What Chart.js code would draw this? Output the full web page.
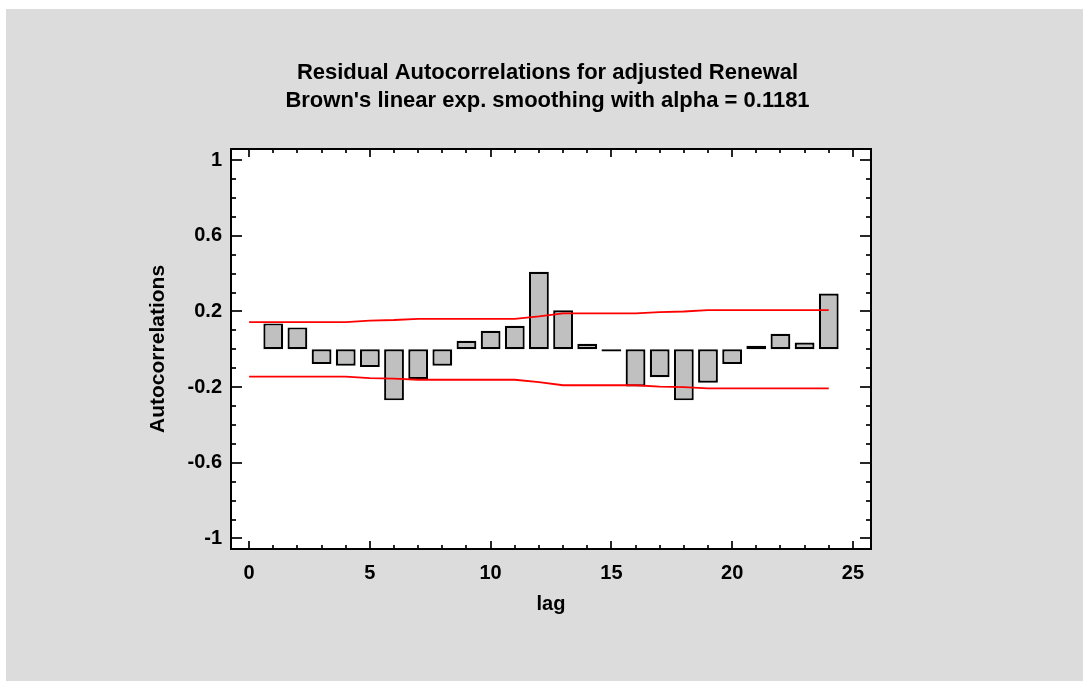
<!DOCTYPE html>
<html>
<head>
<meta charset="utf-8">
<title>Residual Autocorrelations for adjusted Renewal</title>
<script src="https://cdn.jsdelivr.net/npm/chart.js@4.4.1/dist/chart.umd.min.js"></script>
<style>
  html, body { margin: 0; padding: 0; background: #ffffff; }
  #wrap { position: absolute; left: 0; top: 0; width: 1083px; height: 681px; }
</style>
</head>
<body>
<div id="wrap"><canvas id="acf" width="1083" height="681"></canvas></div>
<script>
// Residual autocorrelations by lag
const lags = [1, 2, 3, 4, 5, 6, 7, 8, 9, 10, 11, 12, 13, 14, 15, 16, 17, 18, 19, 20, 21, 22, 23, 24];
const acf = [0.137, 0.116, -0.078, -0.087, -0.094, -0.270, -0.158, -0.087, 0.045, 0.098, 0.124, 0.410,
             0.207, 0.029, -0.012, -0.196, -0.148, -0.270, -0.177, -0.078, 0.019, 0.082, 0.036, 0.295];

// 95% probability limits around zero
const limitLags = [0, 1, 2, 3, 4, 5, 6, 7, 8, 9, 10, 11, 12, 13, 14, 15, 16, 17, 18, 19, 20, 21, 22, 23, 24];
const upperLimit = [0.144, 0.144, 0.144, 0.144, 0.144, 0.152, 0.155, 0.161, 0.161, 0.161, 0.161, 0.161, 0.174,
                    0.190, 0.190, 0.190, 0.190, 0.197, 0.200, 0.207, 0.207, 0.207, 0.207, 0.207, 0.207];
const lowerLimit = [-0.144, -0.144, -0.144, -0.144, -0.144, -0.152, -0.155, -0.161, -0.161, -0.161, -0.161, -0.161, -0.174,
                    -0.190, -0.190, -0.190, -0.190, -0.197, -0.200, -0.207, -0.207, -0.207, -0.207, -0.207, -0.207];

// Axis tick labels
const xTicks = [0, 5, 10, 15, 20, 25];
const yTicks = [-1, -0.6, -0.2, 0.2, 0.6, 1];

const FONT = '"Liberation Sans", Arial, Helvetica, sans-serif';

// Page and plot backgrounds
const backdrop = {
  id: 'backdrop',
  beforeDraw(chart) {
    const { ctx, chartArea: a, width, height } = chart;
    ctx.save();
    ctx.fillStyle = '#ffffff';
    ctx.fillRect(0, 0, width, height);
    ctx.fillStyle = '#dcdcdc';
    ctx.fillRect(6, 9, width - 6, height - 9);
    ctx.fillStyle = '#ffffff';
    ctx.fillRect(a.left, a.top, a.right - a.left, a.bottom - a.top);
    ctx.restore();
  }
};

// Inward tick marks on all four sides of the frame
const frameTicks = {
  id: 'frameTicks',
  afterDraw(chart) {
    const { ctx, chartArea: a, scales: { x, y } } = chart;
    ctx.save();
    ctx.strokeStyle = '#000000';
    ctx.lineWidth = 1.7;
    const seg = (x1, y1, x2, y2) => { ctx.beginPath(); ctx.moveTo(x1, y1); ctx.lineTo(x2, y2); ctx.stroke(); };
    for (let v = 0; v <= 25; v++) {
      const px = Math.round(x.getPixelForValue(v));
      const len = xTicks.includes(v) ? 8 : 4;
      seg(px, a.bottom, px, a.bottom - len);
      seg(px, a.top, px, a.top + len);
    }
    for (let k = -10; k <= 10; k++) {
      const v = k / 10;
      const py = Math.round(y.getPixelForValue(v));
      const len = yTicks.some(t => Math.abs(t - v) < 1e-9) ? 11 : 5;
      seg(a.left, py, a.left + len, py);
      seg(a.right, py, a.right - len, py);
    }
    ctx.restore();
  }
};

const fixSize = (prop, size) => (scale) => { scale[prop] = size; };

new Chart(document.getElementById('acf'), {
  type: 'bar',
  data: {
    datasets: [
      {
        type: 'line',
        data: limitLags.map((l, i) => ({ x: l, y: upperLimit[i] })),
        borderColor: '#ff0000',
        borderWidth: 1.8,
        pointRadius: 0,
        tension: 0,
        fill: false,
        order: 0
      },
      {
        type: 'line',
        data: limitLags.map((l, i) => ({ x: l, y: lowerLimit[i] })),
        borderColor: '#ff0000',
        borderWidth: 1.8,
        pointRadius: 0,
        tension: 0,
        fill: false,
        order: 0
      },
      {
        type: 'bar',
        data: lags.map((l, i) => ({ x: l, y: acf[i] })),
        backgroundColor: '#c0c0c0',
        borderColor: '#000000',
        borderWidth: 2.2,
        borderSkipped: false,
        categoryPercentage: 1,
        barPercentage: 0.82,
        order: 1
      }
    ]
  },
  options: {
    responsive: false,
    animation: false,
    events: [],
    layout: { padding: { left: 12, right: 0, top: 0, bottom: 0 } },
    plugins: {
      legend: { display: false },
      tooltip: { enabled: false },
      title: {
        display: true,
        text: ['Residual Autocorrelations for adjusted Renewal',
               "Brown's linear exp. smoothing with alpha = 0.1181"],
        color: '#000000',
        font: { family: FONT, size: 22, weight: 'bold', lineHeight: 1.27 },
        padding: { top: 59, bottom: 10 }
      }
    },
    scales: {
      x: {
        type: 'linear',
        position: 'bottom',
        min: -0.75,
        max: 25.75,
        offset: false,
        afterFit: fixSize('height', 132),
        afterBuildTicks(scale) { scale.ticks = xTicks.map(v => ({ value: v })); },
        grid: { display: false, drawTicks: false },
        border: { display: true, color: '#000000', width: 2 },
        ticks: {
          color: '#000000',
          padding: 12,
          font: { family: FONT, size: 20, weight: 'bold' },
          callback: (v) => String(v)
        },
        title: {
          display: true,
          text: 'lag',
          color: '#000000',
          font: { family: FONT, size: 20, weight: 'bold', lineHeight: 1.2 },
          padding: { top: 0, bottom: 65 }
        }
      },
      x2: {
        type: 'linear',
        position: 'top',
        min: -0.75,
        max: 25.75,
        offset: false,
        afterFit: fixSize('height', 24),
        grid: { display: false, drawTicks: false },
        border: { display: true, color: '#000000', width: 2 },
        ticks: { display: false }
      },
      y: {
        type: 'linear',
        position: 'left',
        min: -1.056,
        max: 1.06,
        afterFit: fixSize('width', 219),
        afterBuildTicks(scale) { scale.ticks = yTicks.map(v => ({ value: v })); },
        grid: { display: false, drawTicks: false },
        border: { display: true, color: '#000000', width: 2 },
        ticks: {
          color: '#000000',
          padding: 9,
          font: { family: FONT, size: 20, weight: 'bold' },
          callback: (v) => String(v)
        },
        title: {
          display: true,
          text: 'Autocorrelations',
          color: '#000000',
          font: { family: FONT, size: 21, weight: 'bold', lineHeight: 1.2 },
          padding: { top: 134, bottom: 0 }
        }
      },
      y2: {
        type: 'linear',
        position: 'right',
        min: -1.056,
        max: 1.06,
        afterFit: fixSize('width', 212),
        grid: { display: false, drawTicks: false },
        border: { display: true, color: '#000000', width: 2 },
        ticks: { display: false }
      }
    }
  },
  plugins: [backdrop, frameTicks]
});
</script>
</body>
</html>
